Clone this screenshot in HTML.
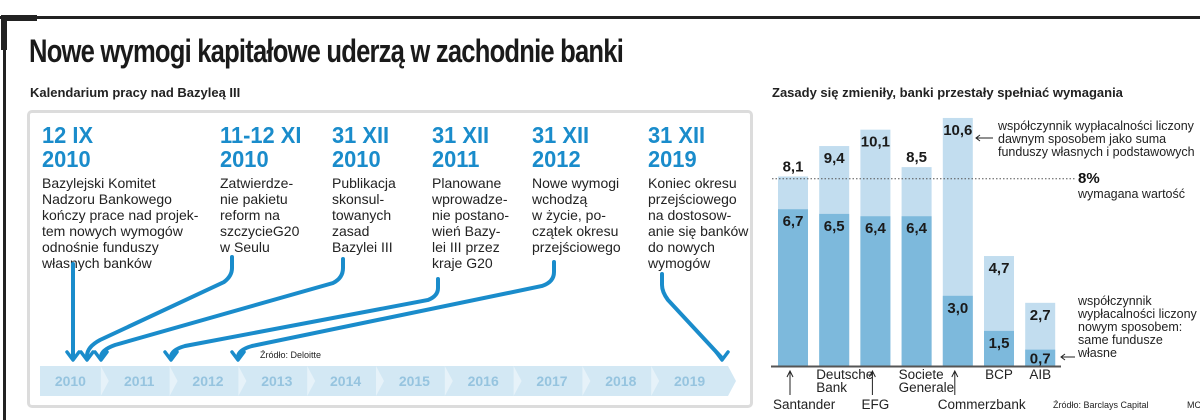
<!DOCTYPE html>
<html><head><meta charset="utf-8">
<style>
body{margin:0;width:1200px;height:420px;background:#fff;overflow:hidden;position:relative;font-family:"Liberation Sans",sans-serif;color:#222}
.abs{position:absolute}
.date{color:#1a8ccb;font-weight:bold;font-size:23px;line-height:24px;font-family:"Liberation Sans Narrow","Liberation Sans",sans-serif;transform:scaleX(0.95);transform-origin:left}
.body{font-size:14px;line-height:16px;color:#222;font-family:"Liberation Sans Narrow","Liberation Sans",sans-serif}
</style></head><body>
<div class="abs" style="left:0;top:16px;width:1200px;height:3px;background:#222"></div>
<div class="abs" style="left:1px;top:15px;width:36px;height:6px;background:#222"></div>
<div class="abs" style="left:3px;top:16px;width:3px;height:404px;background:#222"></div>
<div class="abs" style="left:1px;top:16px;width:6px;height:34px;background:#222"></div>
<div class="abs" style="left:29px;top:33px;font-size:32px;font-weight:bold;letter-spacing:-1px;font-family:'Liberation Sans Narrow','Liberation Sans',sans-serif;color:#1a1a1a;transform:scaleX(0.8);transform-origin:left;white-space:nowrap">Nowe wymogi kapitałowe uderzą w zachodnie banki</div>
<div class="abs" style="left:30px;top:85px;font-size:13px;font-weight:bold">Kalendarium pracy nad Bazyleą III</div>
<div class="abs" style="left:772px;top:85px;font-size:13px;font-weight:bold">Zasady się zmieniły, banki przestały spełniać wymagania</div>

<div class="abs" style="left:27px;top:110px;width:720px;height:292px;border:3px solid #dcdcdc;border-radius:5px"></div>

<div class="abs" style="left:42px;top:123px"><div class="date">12 IX<br>2010</div><div class="body" style="margin-top:4px">Bazylejski Komitet<br>Nadzoru Bankowego<br>kończy prace nad projek-<br>tem nowych wymogów<br>odnośnie funduszy<br>własnych banków</div></div>
<div class="abs" style="left:220px;top:123px"><div class="date">11-12 XI<br>2010</div><div class="body" style="margin-top:4px">Zatwierdze-<br>nie pakietu<br>reform na<br>szczycieG20<br>w Seulu</div></div>
<div class="abs" style="left:332px;top:123px"><div class="date">31 XII<br>2010</div><div class="body" style="margin-top:4px">Publikacja<br>skonsul-<br>towanych<br>zasad<br>Bazylei III</div></div>
<div class="abs" style="left:432px;top:123px"><div class="date">31 XII<br>2011</div><div class="body" style="margin-top:4px">Planowane<br>wprowadze-<br>nie postano-<br>wień Bazy-<br>lei III przez<br>kraje G20</div></div>
<div class="abs" style="left:532px;top:123px"><div class="date">31 XII<br>2012</div><div class="body" style="margin-top:4px">Nowe wymogi<br>wchodzą<br>w życie, po-<br>czątek okresu<br>przejściowego</div></div>
<div class="abs" style="left:648px;top:123px"><div class="date">31 XII<br>2019</div><div class="body" style="margin-top:4px">Koniec okresu<br>przejściowego<br>na dostosow-<br>anie się banków<br>do nowych<br>wymogów</div></div>

<svg class="abs" style="left:0;top:0" width="1200" height="420">
 <g id="band"></g>
 <g fill="none" stroke="#1a8ccb" stroke-width="4" stroke-linecap="round">
  <path d="M73 264 V358"/>
  <path d="M232 257 V268 Q232 276 224 282 L100 340 Q87 347 87 356"/>
  <path d="M343 259 V268 Q343 278 333 283 L115 345 Q101 350 101 357"/>
  <path d="M438 279 V288 Q438 296 428 300 L185 346 Q171 350 171 357"/>
  <path d="M554 262 V272 Q554 282 542 286 L252 346 Q238 350 238 357"/>
  <path d="M662 274 V285 Q662 292 668 300 L721 357"/>
  <g stroke-width="3.5" stroke-linejoin="round">
   <path d="M67 352 L73 360 L79 352"/><path d="M81 352 L87 360 L93 352"/><path d="M95 352 L101 360 L107 352"/>
   <path d="M165 352 L171 360 L177 352"/><path d="M232 352 L238 360 L244 352"/><path d="M716 352 L722 360 L728 352"/>
  </g>
 </g>
 <text x="260" y="358" font-size="9" font-family="Liberation Sans Narrow, Liberation Sans, sans-serif" fill="#222">Źródło: Deloitte</text>
</svg>

<svg class="abs" style="left:0;top:0" width="1200" height="420" id="chart"></svg>

<script>
const years=["2010","2011","2012","2013","2014","2015","2016","2017","2018","2019"];
const banks=["Santander","Deutsche Bank","EFG","Societe Generale","Commerzbank","BCP","AIB"];
const oldRatio=[8.1,9.4,10.1,8.5,10.6,4.7,2.7];
const newRatio=[6.7,6.5,6.4,6.4,3.0,1.5,0.7];
const requiredLevel=8;

const NS="http://www.w3.org/2000/svg";
function mk(parent,tag,attrs,txt){const e=document.createElementNS(NS,tag);for(const k in attrs)e.setAttribute(k,attrs[k]);if(txt!==undefined)e.textContent=txt;parent.appendChild(e);return e;}
const fmt=v=>v.toFixed(1).replace('.',',');

const band=document.getElementById('band');
const bx0=40,bx1=728,by0=366,by1=396;
const seg=(bx1-bx0)/years.length;
const bandPoly=mk(band,'polygon',{points:`${bx0},${by0} ${bx1},${by0} ${bx1+8},${(by0+by1)/2} ${bx1},${by1} ${bx0},${by1}`,fill:'#d3e8f4'});


years.forEach((y,i)=>{
 const cx=bx0+seg*(i+0.5);
 const t=mk(band,'text',{x:cx-4,y:386,'text-anchor':'middle','font-size':14,'font-weight':'bold','font-family':'Liberation Sans Narrow, Liberation Sans, sans-serif',fill:'#96c4df'},y);
 
 
 if(i<years.length-1){
  const sx=bx0+seg*(i+1)-8;
  const c=mk(band,'polygon',{points:`${sx},${by0} ${sx+8},${(by0+by1)/2} ${sx},${by1}`,fill:'#e6f2f9'});
  
  
 }
});

const svg=document.getElementById('chart');
const base=366,unit=23.4,x0=778,step=41.2,bw=30;
const yS=v=>base-v*unit;
const xS=i=>x0+i*step;
const fs='Liberation Sans, sans-serif';
banks.forEach((b,i)=>{
 const x=xS(i);
 const r1=mk(svg,'rect',{x:x,y:yS(oldRatio[i]),width:bw,height:oldRatio[i]*unit,fill:'#c2ddef'});
 
 
 const r2=mk(svg,'rect',{x:x,y:yS(newRatio[i]),width:bw,height:newRatio[i]*unit,fill:'#7db9dc'});
 
 
 const gap=oldRatio[i]-newRatio[i];
 const above=(oldRatio[i]>=8&&gap<2.5);
 const ly=above?yS(oldRatio[i])-5:yS(oldRatio[i])+17;
 const t1=mk(svg,'text',{x:x+bw/2,y:ly,'text-anchor':'middle','font-size':15,'font-weight':'bold','font-family':fs,fill:'#1a1a1a'},fmt(oldRatio[i]));
 
 
 const t2=mk(svg,'text',{x:x+bw/2,y:yS(newRatio[i])+(newRatio[i]<1?14:17),'text-anchor':'middle','font-size':15,'font-weight':'bold','font-family':fs,fill:'#1a1a1a'},fmt(newRatio[i]));
 
 
});
const ry=yS(requiredLevel);
const dl=mk(svg,'line',{x1:772,x2:1075,y1:ry,y2:ry,stroke:'#555','stroke-width':1,'stroke-dasharray':'1.5,2'});


const ax=mk(svg,'line',{x1:771,x2:1061,y1:base+0.5,y2:base+0.5,stroke:'#555','stroke-width':2});



function label(x,y,lines,name,anchor,size){
 const t=mk(svg,'text',{x:x,y:y,'font-size':size||12.5,'font-family':fs,fill:'#222','text-anchor':anchor||'start'});
 
 
 lines.forEach((l,k)=>{mk(t,'tspan',{x:x,dy:k?13:0},l);});
}
const lbl=[{i:0,y:409,a:'start',dx:-5,up:true},{i:1,y:379,a:'start',dx:-3},{i:2,y:409,a:'middle',dx:15,up:true},{i:3,y:379,a:'start',dx:-3},{i:4,y:409,a:'start',dx:-5,up:true},{i:5,y:379,a:'middle',dx:15},{i:6,y:379,a:'middle',dx:15}];
lbl.forEach(o=>{
 const x=xS(o.i);
 const parts=banks[o.i]==="Deutsche Bank"?["Deutsche","Bank"]:banks[o.i]==="Societe Generale"?["Societe","Generale"]:[banks[o.i]];
 label(x+o.dx,o.y,parts,'bank-label-'+o.i,o.a,13.5);
 if(o.up){
  const ar=mk(svg,'path',{d:`M${x+12} 395 V372 M${x+9} 377 L${x+12} 371 L${x+15} 377`,stroke:'#222','stroke-width':1,fill:'none'});
  
  
 }
});
label(998,130,["współczynnik wypłacalności liczony","dawnym sposobem jako suma","funduszy własnych i podstawowych"],'old-ratio-note');
const a1=mk(svg,'path',{d:'M993 138 H976 M980 135 L976 138 L980 141',stroke:'#222','stroke-width':1,fill:'none'});

const p8=mk(svg,'text',{x:1078,y:183,'font-size':15,'font-weight':'bold','font-family':fs,fill:'#111'},'8%');

label(1078,198,["wymagana wartość"],'required-level-label');
label(1078,305,["współczynnik","wypłacalności liczony","nowym sposobem:","same fundusze","własne"],'new-ratio-note');
const a2=mk(svg,'path',{d:'M1075 357 H1061 M1065 354 L1061 357 L1065 360',stroke:'#222','stroke-width':1,fill:'none'});

const src=mk(svg,'text',{x:1053,y:408,'font-size':9,'font-family':'Liberation Sans Narrow, Liberation Sans, sans-serif',fill:'#222'},'Źródło: Barclays Capital');

const mc=mk(svg,'text',{x:1187,y:408,'font-size':9,'font-family':fs,fill:'#222'},'MC');

</script>
</body></html>
